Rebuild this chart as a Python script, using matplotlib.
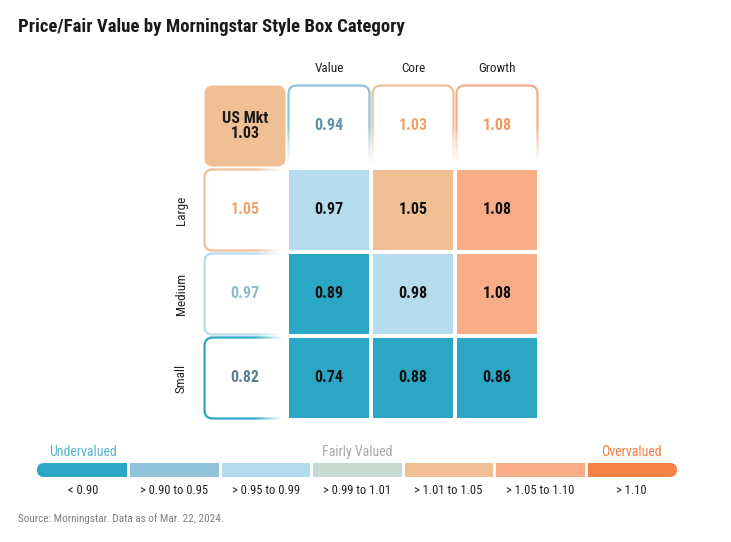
import numpy as np
import matplotlib
matplotlib.use('Agg')
import matplotlib.pyplot as plt
from matplotlib.patches import FancyBboxPatch, Rectangle

styles = ['Value', 'Core', 'Growth']
sizes = ['Large', 'Medium', 'Small']
grid = np.array([[0.97, 1.05, 1.08],
                 [0.89, 0.98, 1.08],
                 [0.74, 0.88, 0.86]])
style_totals = [0.94, 1.03, 1.08]
size_totals = [1.05, 0.97, 0.82]
market = 1.03

bins = [0.90, 0.95, 0.99, 1.01, 1.05, 1.10]
bin_labels = ['< 0.90', '> 0.90 to 0.95', '> 0.95 to 0.99', '> 0.99 to 1.01',
              '> 1.01 to 1.05', '> 1.05 to 1.10', '> 1.10']
bin_colors = ['#2ba7c5', '#90c3d9', '#b5dcec', '#c8d9d2',
              '#f0bf93', '#f9ad87', '#f58345']
text_colors = ['#5b7f8e', '#5f93a8', '#8fbccb', '#9aaaa4',
               '#f0a46c', '#ef9a62', '#f07a3a']

plt.rcParams['font.family'] = ['Roboto Condensed', 'DejaVu Sans']


def bucket(v):
    return int(np.digitize(v, bins, right=True))


fig = plt.figure(figsize=(7.31, 5.42), dpi=100)
W, H = 731, 542


def px_axes(x0, y0, x1, y1):
    return fig.add_axes([x0 / W, 1 - y1 / H, (x1 - x0) / W, (y1 - y0) / H])


fig.text(18 / W, 1 - 27 / H, 'Price/Fair Value by Morningstar Style Box Category',
         fontsize=13.5, fontweight='bold', va='center', ha='left', color='#1a1a1a')

# main grid: unit = 84 px
ax = px_axes(203, 84, 539, 420)
ax.set_xlim(0, 4)
ax.set_ylim(4, 0)
ax.axis('off')

pad = 0.018
size = 1 - 2 * pad
r = 0.1


def header_box(x, y, v, fade):
    c = bin_colors[bucket(v)]
    ax.add_patch(FancyBboxPatch((x + pad + r, y + pad + r), size - 2 * r, size - 2 * r,
                                boxstyle=f'round,pad={r},rounding_size={r}',
                                fc='white', ec=c, lw=1.6, zorder=2))
    # white gradient so the outline fades out
    g = np.linspace(0, 1, 100)
    img = np.ones((100, 100, 4))
    if fade == 'down':
        a = np.clip((g - 0.5) / 0.45, 0, 1) ** 0.8
        img[..., 3] = a[:, None]
    else:
        a = np.clip((g - 0.6) / 0.35, 0, 1)
        img[..., 3] = a[None, :]
    ax.imshow(img, extent=(x + pad - 0.02, x + pad + size + 0.016,
                           y + pad + size + 0.016, y + pad - 0.02),
              origin='upper', zorder=3, aspect='auto', interpolation='bilinear')
    ax.text(x + 0.5, y + 0.5, f'{v:.2f}', ha='center', va='center', fontsize=11.5,
            fontweight='bold', color=text_colors[bucket(v)], zorder=5)


# market box
ax.add_patch(FancyBboxPatch((pad + r, pad + r), size - 2 * r, size - 2 * r,
                            boxstyle=f'round,pad={r},rounding_size={r}',
                            fc=bin_colors[bucket(market)], ec='none', zorder=2))
ax.text(0.5, 0.5, f'US Mkt\n{market:.2f}', ha='center', va='center', fontsize=11.5,
        fontweight='bold', color='#1a1a1a', linespacing=0.95, zorder=5)

for j, v in enumerate(style_totals):
    header_box(j + 1, 0, v, 'down')
    ax.text(j + 1.5, -0.19, styles[j], ha='center', va='center', fontsize=9.5,
            color='#222222', clip_on=False)

for i, v in enumerate(size_totals):
    header_box(0, i + 1, v, 'right')
    ax.text(-0.26, i + 1.5, sizes[i], ha='center', va='center', fontsize=9.5,
            rotation=90, color='#222222', clip_on=False)

for i in range(3):
    for j in range(3):
        v = grid[i, j]
        ax.add_patch(Rectangle((j + 1 + pad, i + 1 + pad), size, size,
                               fc=bin_colors[bucket(v)], ec='none', zorder=2))
        ax.text(j + 1.5, i + 1.5, f'{v:.2f}', ha='center', va='center', fontsize=11.5,
                fontweight='bold', color='#111111', zorder=5)

# legend bar
lx = px_axes(37, 463, 677, 477)
lx.set_xlim(0, 7)
lx.set_ylim(0, 1)
lx.axis('off')
n = len(bin_colors)
ux = 640 / 7
rr = 7 / ux
asp = (7 / 14) / rr
for k, c in enumerate(bin_colors):
    if k in (0, n - 1):
        lx.add_patch(FancyBboxPatch((k + rr, 0 + rr * asp), 1 - 2 * rr, 1 - 2 * rr * asp,
                                    boxstyle=f'round,pad={rr},rounding_size={rr}',
                                    mutation_aspect=asp, fc=c, ec='none', zorder=2))
        sx = k + 0.5 if k == 0 else k
        lx.add_patch(Rectangle((sx, 0), 0.5, 1, fc=c, ec='none', zorder=2))
    else:
        lx.add_patch(Rectangle((k, 0), 1, 1, fc=c, ec='none', zorder=2))
for k in range(1, n):
    lx.axvline(k, color='white', lw=2, zorder=3)

for k, lab in enumerate(bin_labels):
    fig.text((37 + ux * (k + 0.5)) / W, 1 - 490 / H, lab, ha='center', va='center',
             fontsize=9, color='#222222')

fig.text((37 + ux * 0.5) / W, 1 - 452 / H, 'Undervalued', ha='center', va='center',
         fontsize=10, color='#5ab4cf')
fig.text((37 + ux * 3.5) / W, 1 - 452 / H, 'Fairly Valued', ha='center', va='center',
         fontsize=10, color='#a8a8a8')
fig.text((37 + ux * 6.5) / W, 1 - 452 / H, 'Overvalued', ha='center', va='center',
         fontsize=10, color='#f07f45')

fig.text(18 / W, 1 - 519 / H, 'Source: Morningstar. Data as of Mar. 22, 2024.',
         ha='left', va='center', fontsize=8, color='#808080')

fig.savefig('out.png', dpi=100)
